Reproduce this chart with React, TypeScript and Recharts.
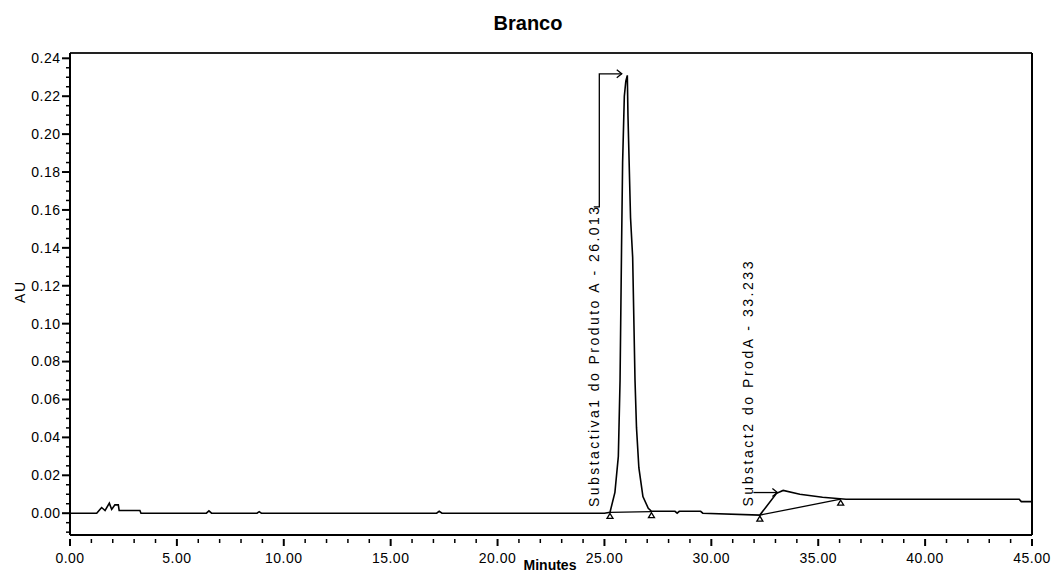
import React from 'react';
import { LineChart, Line, XAxis, YAxis, ReferenceLine, ReferenceDot } from 'recharts';

// chromatogram trace
const minutes = [
  0, 1.25, 1.48, 1.64, 1.84, 1.95, 2.1, 2.26, 2.3, 3.27,
  3.32, 6.38, 6.5, 6.62, 8.75, 8.85, 8.95, 17.15, 17.27, 17.4,
  25.0, 25.26, 25.49, 25.65, 25.73, 25.8, 25.85, 25.93, 26.0, 26.07,
  26.1, 26.22, 26.32, 26.43, 26.5, 26.61, 26.8, 27.05, 27.2, 28.3,
  28.4, 28.5, 29.5, 29.6, 32.27, 33.05, 33.36, 34.14, 35.2, 36.3,
  44.4, 44.5, 45,
];
const absorbance = [
  0, 0, 0.003, 0.0014, 0.0053, 0.002, 0.0044, 0.0044, 0.0014, 0.0014,
  0, 0, 0.0012, 0, 0, 0.0008, 0, 0, 0.001, 0,
  0, 0.0005, 0.011, 0.03, 0.07, 0.14, 0.185, 0.22, 0.228, 0.231,
  0.21, 0.156, 0.135, 0.07, 0.045, 0.024, 0.0088, 0.0026, 0.001, 0.001,
  0, 0.001, 0.001, 0, -0.001, 0.0105, 0.012, 0.01, 0.0084, 0.0074,
  0.0074, 0.0061, 0.0061,
];

// integration baselines (start / end marks)
const base1Minutes = [25.26, 27.2];
const base1Au = [0.0004, 0.0008];
const base2Minutes = [32.27, 36.05];
const base2Au = [-0.001, 0.0074];

// peak annotations
const peakLabels = ['Substactiva1 do Produto A - 26.013', 'Substact2 do ProdA - 33.233'];
const labelMinutes = [24.76, 31.95];
const labelAu = [0.0033, 0.0035];
const arrow1Minutes = [24.5, 24.76, 24.76, 25.81];
const arrow1Au = [0.1616, 0.1616, 0.2318, 0.2318];
const arrow2Minutes = [31.97, 33.09];
const arrow2Au = [0.0109, 0.0109];

const xMajorTicks = [0, 5, 10, 15, 20, 25, 30, 35, 40, 45];
const yMajorTicks = [0, 0.02, 0.04, 0.06, 0.08, 0.1, 0.12, 0.14, 0.16, 0.18, 0.2, 0.22, 0.24];
const xTicks = Array.from({ length: 46 }, (_, i) => i);
const yTicks = Array.from({ length: 51 }, (_, i) => Math.round((-0.01 + i * 0.005) * 1000) / 1000);

const X_DOMAIN: [number, number] = [0, 45];
const Y_DOMAIN: [number, number] = [-0.0115, 0.2428];

const zip = (ts: number[], vs: number[]) => ts.map((t, i) => ({ t, v: vs[i] }));
const trace = zip(minutes, absorbance);
const base1 = zip(base1Minutes, base1Au);
const base2 = zip(base2Minutes, base2Au);
const arrow1 = zip(arrow1Minutes, arrow1Au);
const arrow2 = zip(arrow2Minutes, arrow2Au);

const FONT = '"Liberation Sans", Arial, sans-serif';

const XTick = (props: any) => {
  const { x, y, payload } = props;
  const major = xMajorTicks.includes(payload.value);
  return (
    <g>
      <line x1={x} x2={x} y1={y + 4} y2={y + (major ? 11 : 8)} stroke="#000" strokeWidth={major ? 2 : 1.5} />
      {major && (
        <text x={x} y={y + 28} textAnchor="middle" fontSize={14} letterSpacing={0.5} fill="#000" fontFamily={FONT}>
          {payload.value.toFixed(2)}
        </text>
      )}
    </g>
  );
};

const YTick = (props: any) => {
  const { x, y, payload } = props;
  const major = yMajorTicks.some((m) => Math.abs(m - payload.value) < 1e-9);
  return (
    <g>
      <line x1={x - (major ? 8 : 4)} x2={x} y1={y} y2={y} stroke="#000" strokeWidth={major ? 2 : 1.5} />
      {major && (
        <text x={x - 9.5} y={y} dy="0.35em" textAnchor="end" fontSize={14} letterSpacing={0.5} fill="#000" fontFamily={FONT}>
          {payload.value.toFixed(2)}
        </text>
      )}
    </g>
  );
};

const Mark = (props: any) => {
  const { cx, cy } = props;
  return <path d={`M${cx},${cy + 1} L${cx - 3},${cy + 6} L${cx + 3},${cy + 6} Z`} fill="#fff" stroke="#000" strokeWidth={1.3} />;
};

const arrowHead = (len: number) => (props: any) => {
  const { cx, cy, index } = props;
  if (index !== len - 1) return <g key={`a-${index}`} />;
  return (
    <path key={`a-${index}`} d={`M${cx - 5},${cy - 4} L${cx},${cy} L${cx - 5},${cy + 4}`} fill="none" stroke="#000" strokeWidth={1.3} />
  );
};

const RotLabel = ({ cx, cy, text, len }: any) => (
  <text
    x={cx}
    y={cy}
    transform={`rotate(-90 ${cx} ${cy})`}
    fontSize={14}
    fill="#000"
    fontFamily={FONT}
    textLength={len}
    lengthAdjust="spacing"
  >
    {text}
  </text>
);

const labelLengths = [300, 245];

export default function App() {
  return (
    <div style={{ position: 'absolute', left: 0, top: 0, width: 1053, height: 573, background: '#fff' }}>
      <LineChart width={1053} height={573} data={trace} margin={{ top: 53, right: 21, bottom: 0, left: 0 }}>
        <XAxis
          dataKey="t"
          type="number"
          domain={X_DOMAIN}
          ticks={xTicks}
          interval={0}
          tick={<XTick />}
          tickLine={false}
          tickSize={0}
          tickMargin={0}
          height={38}
          allowDataOverflow
          axisLine={{ stroke: '#000', strokeWidth: 2 }}
        />
        <YAxis
          type="number"
          domain={Y_DOMAIN}
          ticks={yTicks}
          interval={0}
          tick={<YTick />}
          tickLine={false}
          tickSize={0}
          tickMargin={0}
          width={70}
          allowDataOverflow
          axisLine={{ stroke: '#000', strokeWidth: 2 }}
        />
        <ReferenceLine y={Y_DOMAIN[1]} stroke="#222" strokeWidth={2} ifOverflow="visible" />
        <ReferenceLine x={X_DOMAIN[1]} stroke="#000" strokeWidth={2} ifOverflow="visible" />

        <Line data={base1} dataKey="v" type="linear" stroke="#000" strokeWidth={1.3} dot={<Mark />} isAnimationActive={false} />
        <Line data={base2} dataKey="v" type="linear" stroke="#000" strokeWidth={1.3} dot={<Mark />} isAnimationActive={false} />
        <Line data={arrow1} dataKey="v" type="linear" stroke="#000" strokeWidth={1.3} dot={arrowHead(arrow1.length)} isAnimationActive={false} />
        <Line data={arrow2} dataKey="v" type="linear" stroke="#000" strokeWidth={1.3} dot={arrowHead(arrow2.length)} isAnimationActive={false} />
        <Line dataKey="v" type="linear" stroke="#000" strokeWidth={1.6} dot={false} isAnimationActive={false} />

        {peakLabels.map((text, i) => (
          <ReferenceDot
            key={text}
            x={labelMinutes[i]}
            y={labelAu[i]}
            r={0}
            shape={(p: any) => <RotLabel cx={p.cx} cy={p.cy} text={text} len={labelLengths[i]} />}
          />
        ))}
      </LineChart>

      <svg width={1053} height={573} style={{ position: 'absolute', left: 0, top: 0, pointerEvents: 'none' }}>
        <text x={528} y={29.5} textAnchor="middle" fontSize={20} fontWeight="bold" fontFamily={FONT} fill="#000">
          Branco
        </text>
        <text x={25} y={291.7} transform="rotate(-90 25 291.7)" textAnchor="middle" fontSize={14} letterSpacing={1.5} fontFamily={FONT} fill="#000">
          AU
        </text>
        <text x={550} y={569.5} textAnchor="middle" fontSize={14} fontWeight="bold" fontFamily={FONT} fill="#000">
          Minutes
        </text>
      </svg>
    </div>
  );
}
